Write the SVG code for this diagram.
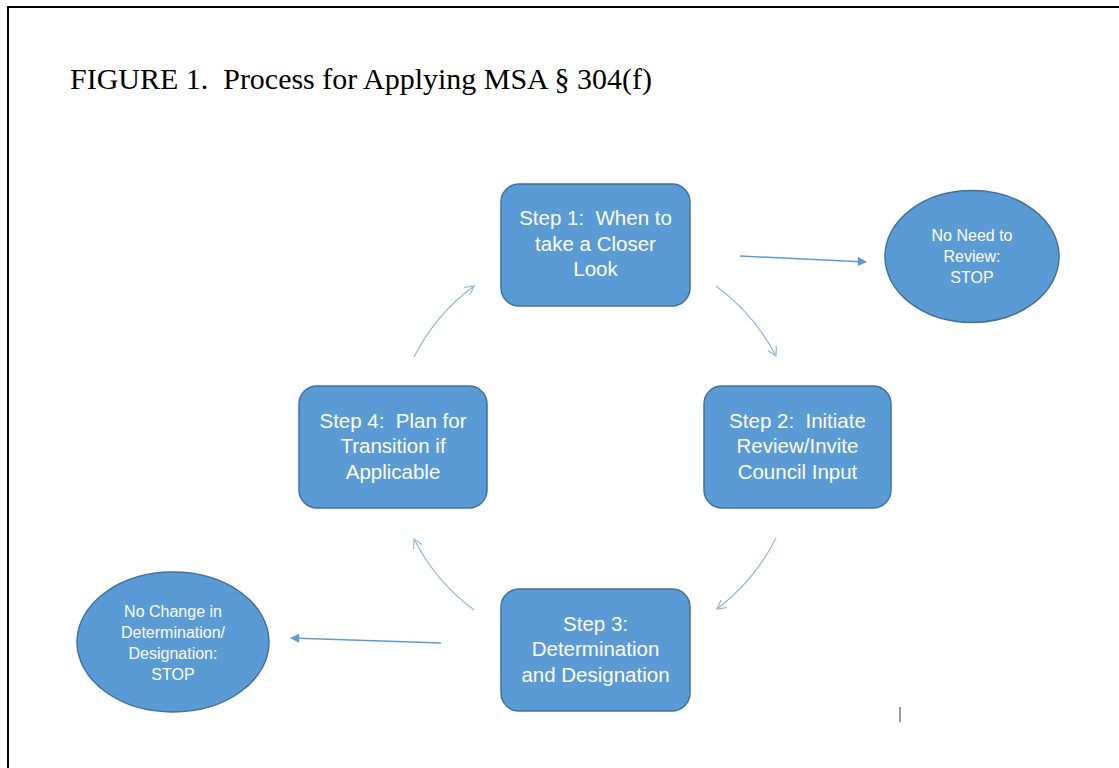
<svg xmlns="http://www.w3.org/2000/svg" width="1119" height="768" viewBox="0 0 1119 768">
<style>
.box{fill:#5B9BD5;stroke:#41719C;stroke-width:1.5}
.t{font-family:"Liberation Sans",Arial,sans-serif;font-size:20.5px;fill:#ffffff;text-anchor:middle;white-space:pre}
.s{font-family:"Liberation Sans",Arial,sans-serif;font-size:16px;fill:#ffffff;text-anchor:middle}
.cur{fill:none;stroke:#8DB8E2;stroke-width:1.2}
.str{fill:none;stroke:#5B9BD5;stroke-width:1.5}
</style>
<defs>
<marker id="open" viewBox="0 0 10 10" refX="9" refY="5" markerWidth="10" markerHeight="10" markerUnits="userSpaceOnUse" orient="auto">
<path d="M0,0 L9,5 L0,10" fill="none" stroke="#8DB8E2" stroke-width="1.2"/>
</marker>
<marker id="solid" viewBox="0 0 10 10" refX="9" refY="5" markerWidth="10" markerHeight="9" markerUnits="userSpaceOnUse" orient="auto">
<path d="M0,0 L10,5 L0,10 Z" fill="#5B9BD5"/>
</marker>
</defs>
<rect width="1119" height="768" fill="#ffffff"/>
<path d="M8,768 V7 H1119" fill="none" stroke="#000" stroke-width="2"/>
<text x="70" y="89" font-family="Liberation Serif,'Times New Roman',serif" font-size="29" textLength="582" lengthAdjust="spacingAndGlyphs" fill="#000" style="white-space:pre">FIGURE 1.  Process for Applying MSA § 304(f)</text>

<g id="connectors">
<path class="cur" d="M716,286 A202,202 0 0 1 776,356" marker-end="url(#open)"/>
<path class="cur" d="M776,538 A202,202 0 0 1 717,609" marker-end="url(#open)"/>
<path class="cur" d="M474,610 A202,202 0 0 1 414,539" marker-end="url(#open)"/>
<path class="cur" d="M414,357 A202,202 0 0 1 474,286" marker-end="url(#open)"/>
<line class="str" x1="740" y1="256" x2="866" y2="262" marker-end="url(#solid)"/>
<line class="str" x1="441" y1="643" x2="291" y2="638" marker-end="url(#solid)"/>
</g>

<g id="step1">
<rect class="box" x="501" y="184" width="189" height="122" rx="18"/>
<text class="t" x="595.5" y="225">Step 1:  When to</text>
<text class="t" x="595.5" y="251">take a Closer</text>
<text class="t" x="595.5" y="276">Look</text>
</g>
<g id="step2">
<rect class="box" x="704" y="386" width="187" height="122" rx="18"/>
<text class="t" x="797.5" y="428">Step 2:  Initiate</text>
<text class="t" x="797.5" y="453">Review/Invite</text>
<text class="t" x="797.5" y="479">Council Input</text>
</g>
<g id="step3">
<rect class="box" x="501" y="589" width="189" height="122" rx="18"/>
<text class="t" x="595.5" y="631">Step 3:</text>
<text class="t" x="595.5" y="656">Determination</text>
<text class="t" x="595.5" y="682">and Designation</text>
</g>
<g id="step4">
<rect class="box" x="299" y="386" width="188" height="122" rx="18"/>
<text class="t" x="393" y="428">Step 4:  Plan for</text>
<text class="t" x="393" y="453">Transition if</text>
<text class="t" x="393" y="479">Applicable</text>
</g>
<g id="stop1">
<ellipse class="box" cx="972" cy="256.5" rx="87" ry="66"/>
<text class="s" x="972" y="240.5">No Need to</text>
<text class="s" x="972" y="261.5">Review:</text>
<text class="s" x="972" y="282.5">STOP</text>
</g>
<g id="stop2">
<ellipse class="box" cx="173" cy="642" rx="96" ry="70"/>
<text class="s" x="173" y="616.5">No Change in</text>
<text class="s" x="173" y="637.5">Determination/</text>
<text class="s" x="173" y="658.5">Designation:</text>
<text class="s" x="173" y="679.5">STOP</text>
</g>
<rect x="899" y="707" width="2" height="15" fill="#999"/>
</svg>
